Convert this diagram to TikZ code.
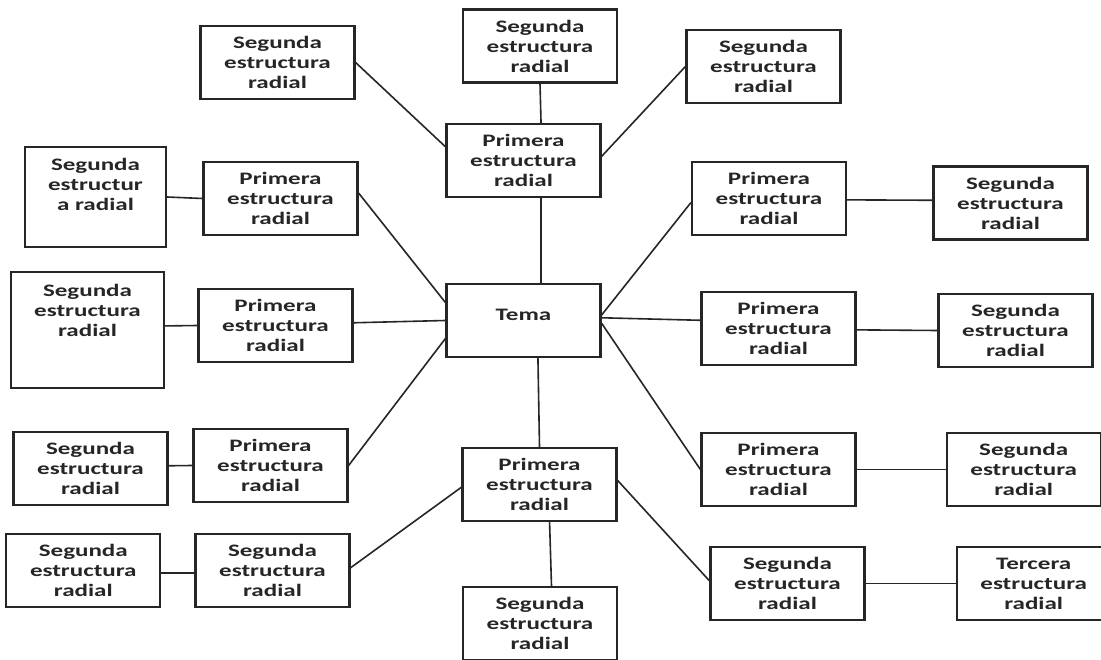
\documentclass[tikz,border=0pt]{standalone}
\usepackage{fontspec}
\setmainfont{Carlito}[FakeStretch=1.43]
\usetikzlibrary{positioning}

\begin{document}
\begin{tikzpicture}[x=1pt,y=-1pt,
    caja/.style={draw=black!85,line width=2.2pt,minimum width=154pt,minimum height=73pt,
      inner sep=0pt,align=center,text=black!85,font=\fontsize{17.5}{20}\selectfont\bfseries},
    link/.style={draw=black!85,line width=1.6pt}]
  \fill[white] (0,0) rectangle (1101,660);
  \useasboundingbox (0,0) rectangle (1101,660);

  % centro y primeras estructuras
  \node[caja,text height=11.5pt,text depth=11.5pt] (t) at (523.5,320.5) {Tema};
  \node[caja] (p1) at (523.5,160.5) {Primera\\estructura\\radial};
  \node[caja] (p2) at (280.5,198.5) {Primera\\estructura\\radial};
  \node[caja] (p3) at (275.5,325.5) {Primera\\estructura\\radial};
  \node[caja] (p4) at (769,198.5)   {Primera\\estructura\\radial};
  \node[caja] (p5) at (778.5,328.5) {Primera\\estructura\\radial};
  \node[caja] (p6) at (270.5,465.5) {Primera\\estructura\\radial};
  \node[caja] (p7) at (539.5,484.5) {Primera\\estructura\\radial};
  \node[caja] (p8) at (778.5,469.5) {Primera\\estructura\\radial};

  % segundas estructuras
  \node[caja] (s1) at (277.5,62.5)  {Segunda\\estructura\\radial};
  \node[caja] (s2) at (540,46)      {Segunda\\estructura\\radial};
  \node[caja] (s3) at (763.5,66.5)  {Segunda\\estructura\\radial};
  \node[caja,minimum width=141pt,minimum height=100pt,text depth=24.5pt]
              (s4) at (95.5,197)    {Segunda\\estructur\\a radial};
  \node[caja,minimum width=153pt,minimum height=116pt,text depth=40pt]
              (s5) at (87.5,330)    {Segunda\\estructura\\radial};
  \node[caja] (s6) at (1010.5,203)  {Segunda\\estructura\\radial};
  \node[caja] (s7) at (1015.5,330.5) {Segunda\\estructura\\radial};
  \node[caja] (s8) at (90.5,468.5)  {Segunda\\estructura\\radial};
  \node[caja] (s9) [right=89pt of p8] {Segunda\\estructura\\radial};
  \node[caja] (s11) at (272.5,570.5) {Segunda\\estructura\\radial};
  \node[caja] (s10) [left=33pt of s11] {Segunda\\estructura\\radial};
  \node[caja] (s12) at (540,623.5)  {Segunda\\estructura\\radial};
  \node[caja] (s13) at (787.5,583.5) {Segunda\\estructura\\radial};
  \node[caja] (t1) [right=90pt of s13] {Tercera\\estructura\\radial};

  \path[link]
    (s1.east) edge (p1.170)
    (s2.south) edge (p1.65)
    (s3.west) edge (p1.3)
    (p1.-65) edge (t.65)
    (s4.east) edge (p2.west)
    (p2.4) edge (t.167)
    (s5.3) edge (p3.west)
    (p3.2) edge (t.west)
    (s8.2) edge (p6.west)
    (p6.east) edge (t.193)
    (t.4) edge (p4.183)
    (p4.-1) edge (s6.178)
    (t.2) edge (p5.174)
    (p5.-1) edge (s7.west)
    (t.-2) edge (p8.west)
    (p8) edge (s9)
    (t.-69) edge (p7.north)
    (p7.182) edge (s11.2)
    (s11.182) edge (s10.-2)
    (p7.-75) edge (s12.73)
    (p7.3) edge (s13.178)
    (s13) edge (t1);
\end{tikzpicture}
\end{document}
